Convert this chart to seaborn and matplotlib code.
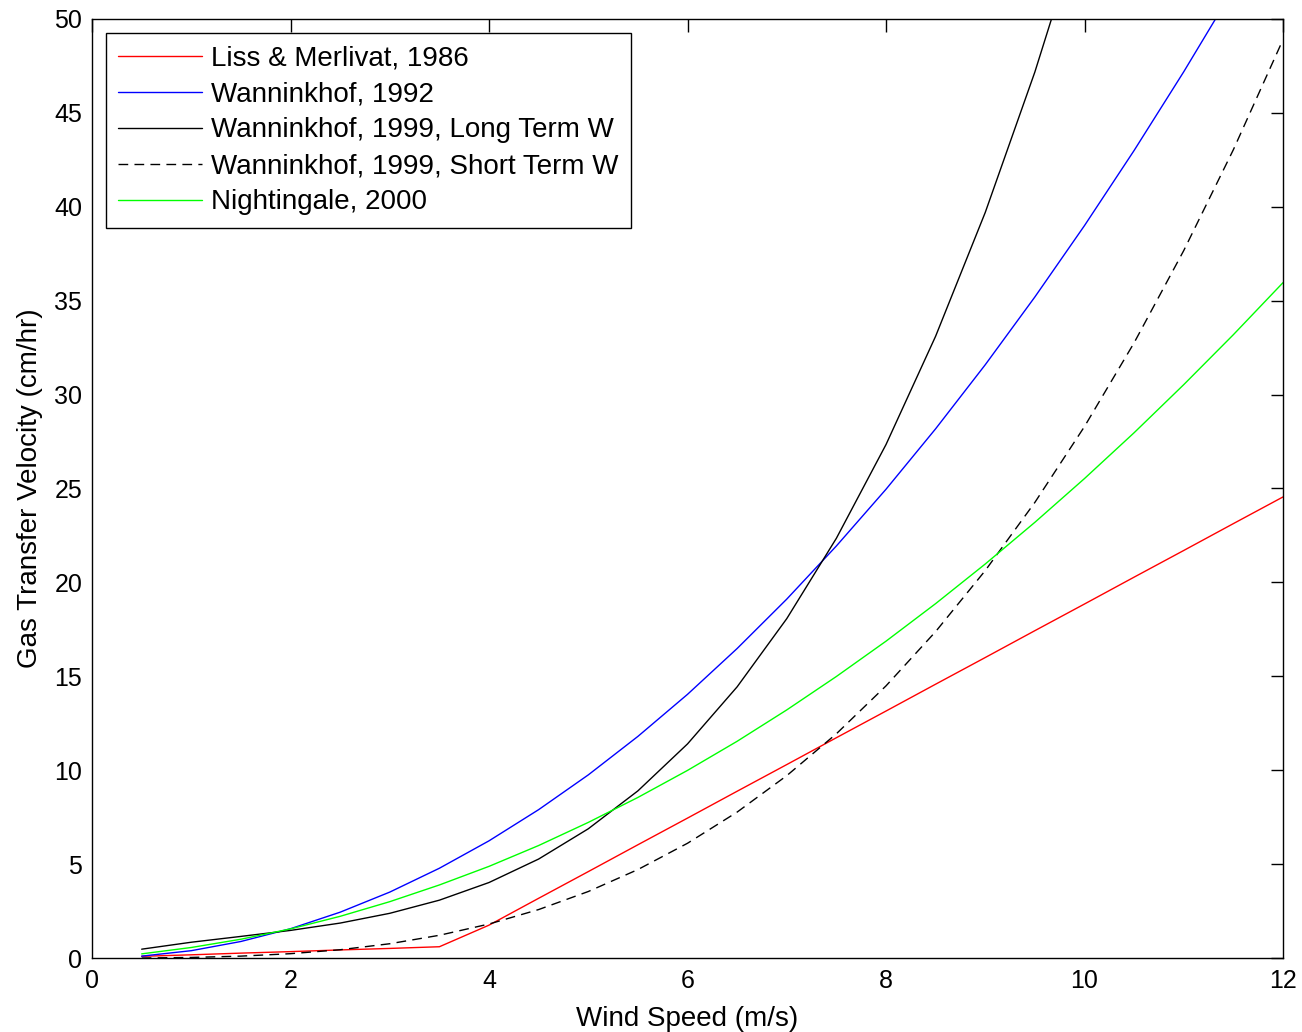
"""
Gas transfer velocity vs wind speed for several published parameterisations.
MATLAB-look line chart drawn with seaborn.
"""
import pandas as pd
import matplotlib
matplotlib.use("Agg")
import matplotlib.pyplot as plt
import seaborn as sns

# wind speed samples (m/s)
wind = [0.5, 1.0, 1.5, 2.0, 2.5, 3.0, 3.5, 4.0, 4.5, 5.0, 5.5, 6.0,
        6.5, 7.0, 7.5, 8.0, 8.5, 9.0, 9.5, 10.0, 10.5, 11.0, 11.5, 12.0]

# gas transfer velocity (cm/hr)
liss_merlivat = [0.09, 0.17, 0.26, 0.34, 0.43, 0.51, 0.60, 1.75, 3.18, 4.60, 6.03, 7.45,
                 8.88, 10.30, 11.73, 13.15, 14.58, 16.00, 17.43, 18.85, 20.28, 21.70, 23.13, 24.55]
wanninkhof_1992 = [0.10, 0.39, 0.88, 1.56, 2.44, 3.51, 4.78, 6.24, 7.90, 9.75, 11.80, 14.04,
                   16.48, 19.11, 21.94, 24.96, 28.18, 31.59, 35.20, 39.00, 43.00, 47.19, 51.58, 56.16]
wanninkhof_1999_long = [0.47, 0.84, 1.15, 1.47, 1.86, 2.38, 3.08, 4.02, 5.27, 6.88, 8.90, 11.40,
                        14.44, 18.07, 22.35, 27.34, 33.11, 39.70, 47.18, 55.60, 65.03, 75.52, 87.12, 99.91]
wanninkhof_1999_short = [0.00, 0.03, 0.10, 0.23, 0.44, 0.76, 1.21, 1.81, 2.58, 3.54, 4.71, 6.11,
                         7.77, 9.71, 11.94, 14.49, 17.38, 20.63, 24.26, 28.30, 32.76, 37.67, 43.04, 48.90]
nightingale_2000 = [0.22, 0.56, 1.00, 1.55, 2.22, 3.00, 3.89, 4.88, 5.99, 7.22, 8.55, 9.99,
                    11.54, 13.21, 14.99, 16.87, 18.87, 20.98, 23.20, 25.53, 27.97, 30.53, 33.19, 35.96]

series_labels = ["Liss & Merlivat, 1986", "Wanninkhof, 1992", "Wanninkhof, 1999, Long Term W",
                 "Wanninkhof, 1999, Short Term W", "Nightingale, 2000"]

sns.set_style("white")
plt.rcParams["font.family"] = ["Liberation Sans", "DejaVu Sans"]
plt.rcParams["font.size"] = 18
plt.rcParams["text.color"] = "black"
plt.rcParams["axes.labelcolor"] = "black"

frames = []
for label, vals in zip(series_labels, [liss_merlivat, wanninkhof_1992, wanninkhof_1999_long,
                                       wanninkhof_1999_short, nightingale_2000]):
    frames.append(pd.DataFrame({"wind": wind, "k": vals, "source": label}))
df = pd.concat(frames, ignore_index=True)

colors = {
    series_labels[0]: "#ff0000",
    series_labels[1]: "#0000ff",
    series_labels[2]: "#000000",
    series_labels[3]: "#000000",
    series_labels[4]: "#00ff00",
}
dashes = {
    series_labels[0]: "",
    series_labels[1]: "",
    series_labels[2]: "",
    series_labels[3]: (7, 4.5),
    series_labels[4]: "",
}

fig = plt.figure(figsize=(13.02, 10.32), dpi=100)
ax = fig.add_axes([0.0707, 0.0717, 0.9147, 0.9099])

sns.lineplot(data=df, x="wind", y="k", hue="source", style="source",
             palette=colors, dashes=dashes, hue_order=series_labels,
             style_order=series_labels, linewidth=1.0, ax=ax, legend=True)

ax.set_xlim(0, 12)
ax.set_ylim(0, 50)
ax.set_xticks(range(0, 13, 2))
ax.set_yticks(range(0, 51, 5))
ax.set_xlabel("Wind Speed (m/s)", fontsize=20, labelpad=9)
ax.set_ylabel("Gas Transfer Velocity (cm/hr)", fontsize=20, labelpad=8)

ax.tick_params(direction="in", length=9, width=1, top=True, right=True,
               labelsize=18, colors="black")
ax.tick_params(axis="x", pad=8)
ax.tick_params(axis="y", pad=7)
for spine in ax.spines.values():
    spine.set_visible(True)
    spine.set_color("black")
    spine.set_linewidth(1.0)

handles, labels = ax.get_legend_handles_labels()
leg = ax.legend(handles, labels, loc="upper left", fontsize=20, frameon=True,
                fancybox=False, edgecolor="black", framealpha=1, handlelength=3.0,
                handletextpad=0.32, labelspacing=0.36, borderaxespad=0.5,
                borderpad=0.45)
leg.get_frame().set_linewidth(1.0)

fig.savefig("out.png", dpi=100)
